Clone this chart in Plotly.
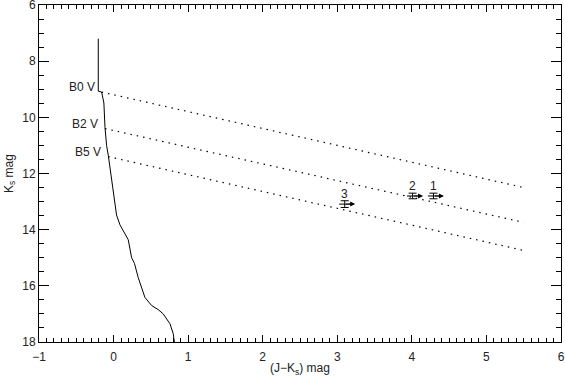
"""Diagram K_s vs (J-K_s) z ciągiem głównym i liniami poczerwienienia."""

import plotly.graph_objects as go

# ciąg główny (J-K_s, K_s)
ms_jk = [-0.205, -0.205, -0.16, -0.13, -0.115, -0.093, -0.07, -0.048, -0.004,
         0.02, 0.04, 0.086, 0.153, 0.197, 0.242, 0.26, 0.28, 0.331, 0.42,
         0.51, 0.60, 0.666, 0.756, 0.80, 0.815]
ms_k = [7.2, 9.07, 9.1, 9.49, 10.37, 11.01, 11.37, 11.83, 12.6,
        13.12, 13.48, 13.83, 14.18, 14.36, 15.0, 15.12, 15.2, 15.71, 16.41,
        16.7, 16.85, 17.0, 17.35, 17.7, 18.0]

# linie poczerwienienia dla typów widmowych
sp_labels = ["B0 V", "B2 V", "B5 V"]
sp_jk0 = [-0.16, -0.115, -0.07]
sp_k0 = [9.1, 10.4, 11.4]
sp_jk1 = [5.5, 5.5, 5.5]
sp_k1 = [12.5, 13.74, 14.74]

# źródła (dolne granice J-K_s)
src_ids = ["1", "2", "3"]
src_jk = [4.29, 4.01, 3.10]
src_k = [12.8, 12.8, 13.09]
src_kerr = [0.1, 0.1, 0.12]

FONT = dict(family="Liberation Sans, Arial, sans-serif", size=12, color="#222")
ARROW_LEN = 0.14

fig = go.Figure()

fig.add_trace(go.Scatter(
    x=ms_jk, y=ms_k, mode="lines",
    line=dict(color="black", width=1), showlegend=False,
))

for i in range(len(sp_labels)):
    fig.add_trace(go.Scatter(
        x=[sp_jk0[i], sp_jk1[i]], y=[sp_k0[i], sp_k1[i]], mode="lines",
        line=dict(color="black", width=1.2, dash="1.5px,5px"), showlegend=False,
    ))
    fig.add_annotation(
        x=sp_jk0[i], y=sp_k0[i], text=sp_labels[i], showarrow=False,
        xanchor="right", yanchor="bottom", xshift=-5, yshift=-4, font=FONT,
    )

fig.add_trace(go.Scatter(
    x=src_jk, y=src_k, mode="markers",
    marker=dict(symbol="line-ew", size=8, line=dict(color="black", width=1)),
    error_y=dict(type="data", array=src_kerr, color="black", thickness=1, width=4),
    showlegend=False,
))

for i in range(len(src_ids)):
    fig.add_annotation(
        x=src_jk[i] + ARROW_LEN, y=src_k[i], ax=src_jk[i], ay=src_k[i],
        axref="x", ayref="y", xref="x", yref="y", text="",
        showarrow=True, arrowhead=2, arrowsize=1, arrowwidth=1, arrowcolor="black",
    )
    fig.add_annotation(
        x=src_jk[i], y=src_k[i], text=src_ids[i], showarrow=False,
        yanchor="bottom", yshift=1, font=FONT,
    )

axis_common = dict(
    showline=True, linecolor="black", linewidth=1, mirror="ticks",
    ticks="inside", tickcolor="black", tickwidth=1, showgrid=False,
    zeroline=False, tickfont=FONT, automargin=False,
    ticklabeloverflow="allow",
)

fig.update_layout(
    width=565, height=379,
    margin=dict(l=39, r=4, t=5, b=37),
    plot_bgcolor="white", paper_bgcolor="white",
    font=FONT,
    xaxis=dict(
        range=[-1, 6], dtick=1, ticklen=7, ticklabelstandoff=4,
        minor=dict(dtick=0.1, ticklen=4, ticks="inside", tickcolor="black"),
        title=dict(text="(J−K<sub>s</sub>) mag", font=FONT, standoff=0),
        **axis_common,
    ),
    yaxis=dict(
        range=[18, 6], dtick=2, ticklen=10,
        minor=dict(dtick=0.5, ticklen=5, ticks="inside", tickcolor="black"),
        title=dict(text="K<sub>s</sub> mag", font=FONT, standoff=6),
        **axis_common,
    ),
)

# strona bez domyślnego marginesu body, żeby wykres zaczynał się w (0, 0)
fig.write_html(
    "out.html",
    config={"displayModeBar": False},
    post_script="document.body.style.margin='0';",
)
